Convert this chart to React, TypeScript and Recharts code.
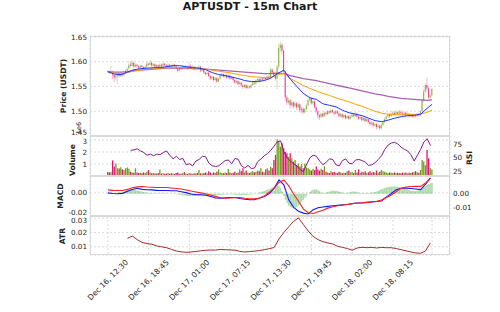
import React from 'react';
import { ComposedChart, Bar, Line, XAxis, YAxis, CartesianGrid, Cell } from 'recharts';

// 15m candles, index 0 = Dec 16 12:30
const tickIdx = [0, 25, 50, 75, 100, 125, 150, 175, 199];
const tickLabels = ['Dec 16, 12:30', 'Dec 16, 18:45', 'Dec 17, 01:00', 'Dec 17, 07:15', 'Dec 17, 13:30', 'Dec 17, 19:45', 'Dec 18, 02:00', 'Dec 18, 08:15', ''];

const opens = [
  1.581, 1.580, 1.577, 1.579, 1.574, 1.568, 1.572, 1.575, 1.571, 1.574,
  1.573, 1.577, 1.582, 1.586, 1.594, 1.592, 1.598, 1.590, 1.594, 1.591,
  1.588, 1.592, 1.589, 1.586, 1.590, 1.596, 1.594, 1.598, 1.592, 1.595,
  1.590, 1.593, 1.589, 1.594, 1.591, 1.596, 1.593, 1.590, 1.594, 1.592,
  1.590, 1.594, 1.591, 1.586, 1.582, 1.588, 1.585, 1.590, 1.587, 1.589,
  1.586, 1.592, 1.588, 1.590, 1.585, 1.588, 1.586, 1.590, 1.582, 1.584,
  1.578, 1.575, 1.578, 1.571, 1.566, 1.570, 1.563, 1.567, 1.560, 1.566,
  1.572, 1.575, 1.570, 1.573, 1.568, 1.572, 1.566, 1.569, 1.563, 1.558,
  1.561, 1.555, 1.558, 1.552, 1.549, 1.553, 1.547, 1.550, 1.548, 1.553,
  1.558, 1.556, 1.562, 1.565, 1.561, 1.566, 1.564, 1.568, 1.565, 1.570,
  1.567, 1.584, 1.578, 1.572, 1.566, 1.590, 1.628, 1.634, 1.622, 1.580,
  1.528, 1.518, 1.522, 1.512, 1.518, 1.510, 1.516, 1.508, 1.514, 1.502,
  1.505, 1.498, 1.504, 1.512, 1.522, 1.526, 1.516, 1.520, 1.508, 1.500,
  1.492, 1.488, 1.495, 1.490, 1.497, 1.494, 1.500, 1.497, 1.502, 1.498,
  1.495, 1.500, 1.496, 1.490, 1.494, 1.488, 1.492, 1.486, 1.490, 1.485,
  1.489, 1.493, 1.490, 1.495, 1.489, 1.485, 1.488, 1.482, 1.486, 1.480,
  1.484, 1.478, 1.474, 1.477, 1.471, 1.474, 1.468, 1.471, 1.466, 1.472,
  1.478, 1.484, 1.489, 1.493, 1.490, 1.495, 1.497, 1.494, 1.498, 1.495,
  1.499, 1.496, 1.494, 1.497, 1.492, 1.495, 1.490, 1.493, 1.489, 1.492,
  1.490, 1.494, 1.492, 1.500, 1.522, 1.540, 1.553, 1.546, 1.528, 1.532,
];
const highs = [
  1.583, 1.582, 1.592, 1.581, 1.576, 1.575, 1.578, 1.577, 1.576, 1.576,
  1.579, 1.584, 1.588, 1.602, 1.600, 1.603, 1.600, 1.597, 1.596, 1.593,
  1.594, 1.594, 1.591, 1.592, 1.600, 1.598, 1.604, 1.600, 1.598, 1.597,
  1.596, 1.595, 1.597, 1.596, 1.599, 1.598, 1.595, 1.597, 1.596, 1.594,
  1.597, 1.596, 1.593, 1.588, 1.590, 1.590, 1.593, 1.592, 1.594, 1.592,
  1.600, 1.595, 1.593, 1.592, 1.591, 1.590, 1.593, 1.592, 1.587, 1.586,
  1.580, 1.581, 1.580, 1.573, 1.573, 1.572, 1.570, 1.569, 1.568, 1.575,
  1.578, 1.577, 1.576, 1.575, 1.575, 1.574, 1.572, 1.571, 1.565, 1.564,
  1.563, 1.561, 1.560, 1.555, 1.556, 1.555, 1.553, 1.552, 1.556, 1.561,
  1.561, 1.565, 1.568, 1.567, 1.569, 1.569, 1.571, 1.570, 1.573, 1.573,
  1.588, 1.587, 1.581, 1.575, 1.594, 1.637, 1.641, 1.638, 1.625, 1.583,
  1.532, 1.527, 1.525, 1.523, 1.521, 1.520, 1.519, 1.518, 1.516, 1.509,
  1.508, 1.507, 1.515, 1.526, 1.530, 1.528, 1.523, 1.522, 1.510, 1.502,
  1.495, 1.498, 1.497, 1.500, 1.499, 1.503, 1.502, 1.505, 1.504, 1.500,
  1.503, 1.502, 1.498, 1.497, 1.496, 1.495, 1.494, 1.493, 1.492, 1.492,
  1.497, 1.496, 1.499, 1.497, 1.491, 1.491, 1.490, 1.489, 1.488, 1.487,
  1.486, 1.480, 1.480, 1.479, 1.477, 1.476, 1.474, 1.473, 1.475, 1.480,
  1.487, 1.492, 1.496, 1.496, 1.499, 1.501, 1.500, 1.502, 1.500, 1.503,
  1.502, 1.499, 1.500, 1.499, 1.498, 1.497, 1.496, 1.495, 1.495, 1.494,
  1.497, 1.497, 1.503, 1.525, 1.545, 1.557, 1.568, 1.550, 1.536, 1.548,
];
const lows = [
  1.578, 1.575, 1.576, 1.566, 1.558, 1.562, 1.555, 1.568, 1.569, 1.570,
  1.571, 1.575, 1.580, 1.584, 1.589, 1.590, 1.587, 1.588, 1.589, 1.585,
  1.586, 1.587, 1.583, 1.584, 1.588, 1.591, 1.592, 1.590, 1.589, 1.588,
  1.588, 1.587, 1.587, 1.589, 1.589, 1.591, 1.588, 1.588, 1.590, 1.587,
  1.588, 1.589, 1.584, 1.578, 1.580, 1.583, 1.583, 1.585, 1.585, 1.584,
  1.584, 1.586, 1.586, 1.582, 1.583, 1.583, 1.584, 1.579, 1.580, 1.575,
  1.572, 1.573, 1.569, 1.563, 1.564, 1.560, 1.561, 1.557, 1.558, 1.564,
  1.570, 1.568, 1.568, 1.565, 1.566, 1.563, 1.564, 1.560, 1.555, 1.556,
  1.552, 1.553, 1.549, 1.545, 1.547, 1.544, 1.545, 1.545, 1.546, 1.551,
  1.553, 1.554, 1.560, 1.558, 1.559, 1.561, 1.562, 1.562, 1.563, 1.564,
  1.565, 1.576, 1.568, 1.562, 1.545, 1.585, 1.620, 1.615, 1.575, 1.522,
  1.512, 1.514, 1.506, 1.508, 1.505, 1.507, 1.502, 1.504, 1.497, 1.496,
  1.494, 1.495, 1.502, 1.510, 1.519, 1.513, 1.513, 1.505, 1.496, 1.485,
  1.482, 1.486, 1.487, 1.488, 1.491, 1.491, 1.494, 1.495, 1.496, 1.492,
  1.493, 1.494, 1.487, 1.488, 1.485, 1.486, 1.483, 1.484, 1.482, 1.483,
  1.487, 1.488, 1.488, 1.487, 1.482, 1.483, 1.479, 1.480, 1.477, 1.478,
  1.475, 1.471, 1.471, 1.468, 1.469, 1.463, 1.464, 1.462, 1.463, 1.470,
  1.476, 1.482, 1.487, 1.487, 1.488, 1.492, 1.491, 1.492, 1.492, 1.493,
  1.493, 1.491, 1.492, 1.489, 1.490, 1.487, 1.488, 1.486, 1.487, 1.487,
  1.488, 1.489, 1.490, 1.498, 1.518, 1.537, 1.540, 1.525, 1.524, 1.529,
];
const closes = [
  1.580, 1.577, 1.579, 1.574, 1.568, 1.572, 1.575, 1.571, 1.574, 1.573,
  1.577, 1.582, 1.586, 1.594, 1.592, 1.598, 1.590, 1.594, 1.591, 1.588,
  1.592, 1.589, 1.586, 1.590, 1.596, 1.594, 1.598, 1.592, 1.595, 1.590,
  1.593, 1.589, 1.594, 1.591, 1.596, 1.593, 1.590, 1.594, 1.592, 1.590,
  1.594, 1.591, 1.586, 1.582, 1.588, 1.585, 1.590, 1.587, 1.589, 1.586,
  1.592, 1.588, 1.590, 1.585, 1.588, 1.586, 1.590, 1.582, 1.584, 1.578,
  1.575, 1.578, 1.571, 1.566, 1.570, 1.563, 1.567, 1.560, 1.566, 1.572,
  1.575, 1.570, 1.573, 1.568, 1.572, 1.566, 1.569, 1.563, 1.558, 1.561,
  1.555, 1.558, 1.552, 1.549, 1.553, 1.547, 1.550, 1.548, 1.553, 1.558,
  1.556, 1.562, 1.565, 1.561, 1.566, 1.564, 1.568, 1.565, 1.570, 1.567,
  1.584, 1.578, 1.572, 1.566, 1.590, 1.628, 1.634, 1.622, 1.580, 1.528,
  1.518, 1.522, 1.512, 1.518, 1.510, 1.516, 1.508, 1.514, 1.502, 1.505,
  1.498, 1.504, 1.512, 1.522, 1.526, 1.516, 1.520, 1.508, 1.500, 1.492,
  1.488, 1.495, 1.490, 1.497, 1.494, 1.500, 1.497, 1.502, 1.498, 1.495,
  1.500, 1.496, 1.490, 1.494, 1.488, 1.492, 1.486, 1.490, 1.485, 1.489,
  1.493, 1.490, 1.495, 1.489, 1.485, 1.488, 1.482, 1.486, 1.480, 1.484,
  1.478, 1.474, 1.477, 1.471, 1.474, 1.468, 1.471, 1.466, 1.472, 1.478,
  1.484, 1.489, 1.493, 1.490, 1.495, 1.497, 1.494, 1.498, 1.495, 1.499,
  1.496, 1.494, 1.497, 1.492, 1.495, 1.490, 1.493, 1.489, 1.492, 1.490,
  1.494, 1.492, 1.500, 1.522, 1.540, 1.553, 1.546, 1.528, 1.532, 1.545,
];
// volume in millions
const volumesM = [
  0.33, 0.30, 0.32, 1.30, 0.78, 1.05, 0.64, 0.62, 0.72, 0.55,
  0.50, 0.64, 0.70, 0.60, 0.35, 0.30, 0.28, 0.64, 0.30, 0.25,
  0.28, 0.22, 0.30, 0.25, 0.35, 0.50, 0.30, 0.22, 0.25, 0.20,
  0.22, 0.25, 0.55, 0.20, 0.22, 0.18, 0.20, 0.25, 0.18, 0.22,
  0.20, 0.18, 0.25, 0.30, 0.20, 0.18, 0.22, 0.31, 0.20, 0.18,
  0.25, 0.20, 0.18, 0.22, 0.20, 0.25, 0.50, 0.22, 0.20, 0.25,
  0.30, 0.22, 0.40, 0.28, 0.22, 0.30, 0.25, 0.35, 0.55, 0.30,
  0.25, 0.22, 0.30, 0.25, 0.58, 0.30, 0.22, 0.28, 0.35, 0.25,
  0.30, 0.55, 0.40, 0.64, 0.30, 0.45, 0.28, 0.25, 0.35, 0.40,
  0.30, 0.35, 0.45, 0.40, 0.64, 0.35, 0.30, 0.55, 0.64, 0.45,
  0.78, 0.65, 1.33, 1.75, 3.05, 2.90, 2.44, 2.72, 2.30, 2.00,
  1.90, 1.60, 1.90, 1.47, 1.20, 1.33, 0.90, 1.05, 0.80, 1.00,
  0.64, 1.05, 0.70, 0.64, 0.55, 0.45, 0.60, 0.50, 0.80, 0.55,
  0.45, 0.60, 0.50, 0.80, 0.35, 0.30, 0.25, 0.40, 0.30, 0.35,
  0.28, 0.25, 0.35, 0.30, 0.22, 0.30, 0.25, 0.40, 0.45, 0.30,
  0.35, 0.25, 0.50, 0.30, 0.55, 0.25, 0.35, 0.30, 0.40, 0.25,
  0.30, 0.40, 0.28, 0.35, 0.30, 0.45, 0.28, 0.35, 0.50, 0.40,
  0.35, 0.30, 0.25, 0.30, 0.28, 0.25, 0.30, 0.22, 0.28, 0.25,
  0.22, 0.28, 0.25, 0.30, 0.22, 0.28, 0.25, 0.30, 0.35, 0.40,
  0.30, 0.28, 0.50, 1.33, 1.20, 0.90, 2.17, 1.47, 0.64, 0.55,
];

// moving averages, read every 4th candle (last point = candle 199)
const MA_STEP = 4;
const maBlue = [
  1.580, 1.575, 1.574, 1.579, 1.584, 1.586, 1.587, 1.588, 1.588, 1.590,
  1.592, 1.592, 1.590, 1.588, 1.587, 1.584, 1.578, 1.574, 1.572, 1.569,
  1.566, 1.562, 1.560, 1.560, 1.562, 1.567, 1.576, 1.583, 1.565, 1.550,
  1.536, 1.527, 1.524, 1.515, 1.512, 1.509, 1.502, 1.497, 1.494, 1.491,
  1.486, 1.481, 1.479, 1.482, 1.486, 1.489, 1.491, 1.492, 1.494, 1.506,
  1.514,
];
const maOrange = [
  1.580, 1.577, 1.576, 1.578, 1.581, 1.583, 1.585, 1.586, 1.587, 1.588,
  1.588, 1.588, 1.588, 1.587, 1.586, 1.585, 1.583, 1.581, 1.579, 1.577,
  1.574, 1.572, 1.570, 1.569, 1.568, 1.569, 1.574, 1.576, 1.566, 1.559,
  1.552, 1.546, 1.541, 1.536, 1.532, 1.527, 1.523, 1.519, 1.514, 1.510,
  1.505, 1.500, 1.496, 1.494, 1.493, 1.493, 1.493, 1.493, 1.494, 1.498,
  1.502,
];
const maPurple = [
  1.580, 1.579, 1.579, 1.580, 1.582, 1.583, 1.584, 1.585, 1.586, 1.587,
  1.587, 1.587, 1.587, 1.586, 1.586, 1.585, 1.584, 1.583, 1.582, 1.581,
  1.580, 1.579, 1.578, 1.577, 1.576, 1.576, 1.577, 1.576, 1.572, 1.569,
  1.566, 1.564, 1.562, 1.559, 1.556, 1.553, 1.550, 1.547, 1.544, 1.541,
  1.538, 1.535, 1.533, 1.530, 1.528, 1.526, 1.525, 1.524, 1.523, 1.522,
  1.523,
];

// RSI from candle 14, every 2nd candle
const RSI_START = 14;
const RSI_STEP = 2;
const rsi = [
  64, 65, 67, 63, 60, 55, 57, 54, 57, 56,
  60, 63, 55, 48, 53, 47, 49, 37, 39, 35,
  44, 47, 53, 52, 40, 35, 34, 35, 40, 45,
  46, 39, 49, 47, 35, 31, 36, 30, 31, 43,
  48, 54, 58, 64, 72, 80, 82, 62, 50, 44,
  39, 35, 28, 24, 38, 50, 55, 53, 44, 37,
  42, 48, 47, 37, 35, 45, 48, 40, 39, 46,
  47, 45, 42, 36, 37, 41, 47, 54, 66, 74,
  78, 79, 76, 70, 66, 63, 56, 44, 55, 66,
  80, 86, 73,
];

// MACD and signal, every 3rd candle
const MACD_STEP = 3;
const macd = [
  0.0000, -0.0005, -0.0008, -0.0004, 0.0015, 0.0030, 0.0040, 0.0030, 0.0027, 0.0026,
  0.0022, 0.0020, 0.0021, 0.0019, 0.0018, 0.0010, 0.0002, -0.0010, -0.0016, -0.0016,
  -0.0020, -0.0030, -0.0044, -0.0045, -0.0043, -0.0040, -0.0040, -0.0048, -0.0055, -0.0060,
  -0.0060, -0.0045, -0.0031, -0.0005, 0.0040, 0.0112, 0.0070, -0.0060, -0.0125, -0.0158,
  -0.0175, -0.0182, -0.0145, -0.0128, -0.0122, -0.0117, -0.0112, -0.0108, -0.0104, -0.0100,
  -0.0093, -0.0087, -0.0087, -0.0082, -0.0078, -0.0075, -0.0070, -0.0035, -0.0005, 0.0028,
  0.0040, 0.0040, 0.0038, 0.0034, 0.0028, 0.0075, 0.0130,
];
const signal = [
  0.0026, 0.0022, 0.0020, 0.0021, 0.0030, 0.0045, 0.0052, 0.0055, 0.0051, 0.0049,
  0.0047, 0.0046, 0.0046, 0.0042, 0.0038, 0.0033, 0.0025, 0.0016, 0.0008, 0.0000,
  -0.0008, -0.0018, -0.0030, -0.0042, -0.0046, -0.0044, -0.0041, -0.0040, -0.0046, -0.0051,
  -0.0052, -0.0047, -0.0028, 0.0005, 0.0040, 0.0090, 0.0112, 0.0060, -0.0010, -0.0072,
  -0.0140, -0.0172, -0.0178, -0.0164, -0.0150, -0.0132, -0.0120, -0.0112, -0.0105, -0.0100,
  -0.0093, -0.0087, -0.0085, -0.0082, -0.0079, -0.0072, -0.0062, -0.0040, -0.0018, 0.0012,
  0.0040, 0.0050, 0.0055, 0.0056, 0.0056, 0.0085, 0.0128,
];
const macdHist = [
  0.0003, 0.0004, 0.0003, 0.0002, 0.0003, 0.0005, 0.0008, 0.0010, 0.0012, 0.0014,
  0.0016, 0.0020, 0.0024, 0.0028, 0.0030, 0.0031, 0.0030, 0.0028, 0.0025, 0.0022,
  0.0018, 0.0015, 0.0012, 0.0010, 0.0008, 0.0006, 0.0005, 0.0004, 0.0004, 0.0003,
  0.0003, 0.0002, 0.0002, 0.0003, 0.0002, 0.0002, 0.0001, 0.0001, 0.0000, -0.0001,
  -0.0002, -0.0003, -0.0004, -0.0006, -0.0008, -0.0010, -0.0012, -0.0014, -0.0016, -0.0017,
  -0.0018, -0.0018, -0.0019, -0.0018, -0.0017, -0.0016, -0.0016, -0.0015, -0.0015, -0.0014,
  -0.0014, -0.0013, -0.0013, -0.0012, -0.0012, -0.0013, -0.0013, -0.0012, -0.0011, -0.0010,
  -0.0009, -0.0008, -0.0007, -0.0006, -0.0005, -0.0005, -0.0006, -0.0007, -0.0008, -0.0008,
  -0.0009, -0.0010, -0.0010, -0.0011, -0.0011, -0.0010, -0.0009, -0.0008, -0.0006, -0.0004,
  -0.0002, 0.0000, 0.0004, 0.0008, 0.0012, 0.0016, 0.0020, 0.0025, 0.0030, 0.0035,
  0.0040, 0.0045, 0.0050, 0.0055, 0.0060, 0.0058, 0.0040, 0.0015, -0.0015, -0.0045,
  -0.0070, -0.0088, -0.0098, -0.0104, -0.0106, -0.0104, -0.0098, -0.0088, -0.0075, -0.0060,
  -0.0045, -0.0030, -0.0015, 0.0000, 0.0012, 0.0022, 0.0030, 0.0032, 0.0030, 0.0025,
  0.0018, 0.0010, 0.0005, 0.0004, 0.0008, 0.0012, 0.0016, 0.0020, 0.0022, 0.0022,
  0.0020, 0.0018, 0.0016, 0.0012, 0.0008, 0.0005, 0.0004, 0.0005, 0.0008, 0.0012,
  0.0015, 0.0016, 0.0015, 0.0012, 0.0008, 0.0005, 0.0004, 0.0003, 0.0003, 0.0004,
  0.0005, 0.0006, 0.0008, 0.0010, 0.0012, 0.0015, 0.0020, 0.0026, 0.0032, 0.0038,
  0.0042, 0.0046, 0.0049, 0.0051, 0.0052, 0.0053, 0.0053, 0.0052, 0.0050, 0.0048,
  0.0045, 0.0042, 0.0038, 0.0034, 0.0030, 0.0026, 0.0022, 0.0020, 0.0019, 0.0020,
  0.0022, 0.0026, 0.0032, 0.0040, 0.0048, 0.0056, 0.0064, 0.0070, 0.0075, 0.0078,
];

// ATR from candle 12, every 3rd candle
const ATR_START = 12;
const ATR_STEP = 3;
const atr = [
  0.0159, 0.0175, 0.0150, 0.0130, 0.0123, 0.0118, 0.0106, 0.0100, 0.0094, 0.0082,
  0.0071, 0.0065, 0.0062, 0.0064, 0.0068, 0.0072, 0.0076, 0.0078, 0.0077, 0.0082,
  0.0080, 0.0078, 0.0077, 0.0068, 0.0064, 0.0067, 0.0070, 0.0074, 0.0080, 0.0087,
  0.0095, 0.0155, 0.0200, 0.0240, 0.0278, 0.0302, 0.0255, 0.0210, 0.0172, 0.0150,
  0.0136, 0.0127, 0.0120, 0.0104, 0.0096, 0.0088, 0.0076, 0.0092, 0.0097, 0.0094,
  0.0096, 0.0092, 0.0096, 0.0094, 0.0094, 0.0088, 0.0080, 0.0072, 0.0064, 0.0057,
  0.0055, 0.0072, 0.0128,
];

const priceTicks = [1.45, 1.5, 1.55, 1.6, 1.65];
const volTicks = [1, 2, 3];
const rsiTicks = [25, 50, 75];
const macdTicks = [-0.02, 0];
const histTicks = [-0.01, 0];
const atrTicks = [0.01, 0.02, 0.03];

const FONT = "'DejaVu Sans', 'Liberation Sans', sans-serif";
const UP = '#6e9f14';
const DOWN = '#e3166d';
const LAST = closes.length - 1;
const X_DOMAIN: [number, number] = [-11, 210];

const rows = closes.map((c, i) => ({
  i,
  open: opens[i],
  high: highs[i],
  low: lows[i],
  close: c,
  vol: volumesM[i],
  hist: macdHist[i],
}));

const sampled = (vals: number[], start: number, step: number) =>
  vals.map((v, k) => ({ i: Math.min(start + k * step, LAST), v }));

const blueData = sampled(maBlue, 0, MA_STEP);
const orangeData = sampled(maOrange, 0, MA_STEP);
const purpleData = sampled(maPurple, 0, MA_STEP);
const rsiData = sampled(rsi, RSI_START, RSI_STEP);
const macdData = sampled(macd, 0, MACD_STEP);
const signalData = sampled(signal, 0, MACD_STEP);
const atrData = sampled(atr, ATR_START, ATR_STEP);

const tickStyle = { fontSize: 7.2, fill: '#262626', fontFamily: FONT };
const gridProps = { stroke: '#d2d2d2', strokeDasharray: '2 2', strokeWidth: 0.8 };

// y tick renderer; edge labels that collide with the next panel's labels get nudged a little
const makeTick = (fmt: (v: number) => string, nudge: Record<string, number> = {}) =>
  (p: any) => (
    <text
      x={p.x}
      y={p.y + (nudge[String(p.payload.value)] ?? 0)}
      dy="0.355em"
      textAnchor={p.textAnchor}
      style={tickStyle}
    >
      {fmt(p.payload.value)}
    </text>
  );

const fix2 = (v: number) => v.toFixed(2);

function Candle(props: any) {
  const { x, y, width, height, payload } = props;
  if (!payload || height == null) return null;
  const { open, close, high, low } = payload;
  const top = Math.min(y, y + height);
  const h = Math.abs(height);
  const k = high > low ? h / (high - low) : 0;
  const py = (v: number) => top + (high - v) * k;
  const color = close >= open ? UP : DOWN;
  const cx = x + width / 2;
  const bodyTop = py(Math.max(open, close));
  const bodyH = Math.max(0.6, Math.abs(py(open) - py(close)));
  return (
    <g>
      <line x1={cx} x2={cx} y1={top} y2={top + h} stroke={color} strokeOpacity={0.45} strokeWidth={0.7} />
      <rect x={x} y={bodyTop} width={width} height={bodyH} fill={color} fillOpacity={0.72} />
    </g>
  );
}

function DateTick({ x, y, payload }: any) {
  const label = tickLabels[tickIdx.indexOf(payload.value)] ?? '';
  const cy = y + 25;
  return (
    <text
      x={x}
      y={cy}
      transform={`rotate(-45 ${x} ${cy})`}
      textAnchor="middle"
      dominantBaseline="central"
      fontSize={7.6}
      fontFamily={FONT}
      fill="#262626"
    >
      {label}
    </text>
  );
}

const hiddenX = (
  <XAxis
    dataKey="i"
    type="number"
    domain={X_DOMAIN}
    ticks={tickIdx}
    interval={0}
    tick={false}
    axisLine={false}
    tickLine={false}
    height={0}
    allowDataOverflow
  />
);

function PricePanel() {
  return (
    <ComposedChart width={500} height={112} data={rows} margin={{ top: 6, right: 50, bottom: 6, left: 50 }}>
      <CartesianGrid {...gridProps} />
      {hiddenX}
      <YAxis
        domain={[1.45, 1.652]}
        ticks={priceTicks}
        interval={0}
        width={40}
        tickSize={0}
        tickMargin={3}
        axisLine={false}
        tick={makeTick(fix2, { '1.45': -3.5 })}
        allowDataOverflow
      />
      <Bar dataKey={(d: any) => [d.low, d.high]} shape={(p: any) => <Candle {...p} />} barSize={1.1} isAnimationActive={false} />
      <Line data={purpleData} dataKey="v" stroke="#9b45a8" strokeOpacity={0.85} strokeWidth={1.3} dot={false} isAnimationActive={false} />
      <Line data={orangeData} dataKey="v" stroke="#ffa000" strokeWidth={1} dot={false} isAnimationActive={false} />
      <Line data={blueData} dataKey="v" stroke="#2233ff" strokeWidth={1} dot={false} isAnimationActive={false} />
    </ComposedChart>
  );
}

function VolumePanel() {
  return (
    <ComposedChart width={500} height={52} data={rows} margin={{ top: 6, right: 10, bottom: 6, left: 50 }}>
      <CartesianGrid {...gridProps} yAxisId="vol" />
      {hiddenX}
      <YAxis yAxisId="vol" domain={[0, 3.33]} ticks={volTicks} interval={0} width={40} tickSize={0} tickMargin={3} axisLine={false} tick={makeTick((v) => String(v), { '3': 1.5 })} />
      <YAxis yAxisId="rsi" orientation="right" domain={[16, 91]} ticks={rsiTicks} interval={0} width={40} tickSize={0} tickMargin={3} axisLine={false} tick={tickStyle} />
      <Bar yAxisId="vol" dataKey="vol" barSize={1.3} isAnimationActive={false}>
        {rows.map((r) => (
          <Cell key={r.i} fill={r.close >= r.open ? UP : DOWN} />
        ))}
      </Bar>
      <Line yAxisId="rsi" data={rsiData} dataKey="v" stroke="#84198f" strokeWidth={1} dot={false} isAnimationActive={false} />
    </ComposedChart>
  );
}

function MacdPanel() {
  return (
    <ComposedChart width={500} height={52} data={rows} margin={{ top: 6, right: 10, bottom: 6, left: 50 }}>
      <CartesianGrid {...gridProps} yAxisId="macd" />
      {hiddenX}
      <YAxis yAxisId="macd" domain={[-0.02, 0.0146]} ticks={macdTicks} interval={0} width={40} tickSize={0} tickMargin={3} axisLine={false} tick={makeTick(fix2, { '-0.02': -3.5 })} allowDataOverflow />
      <YAxis yAxisId="hist" orientation="right" domain={[-0.0165, 0.013]} ticks={histTicks} interval={0} width={40} tickSize={0} tickMargin={3} axisLine={false} tick={makeTick(fix2)} allowDataOverflow />
      <Bar yAxisId="hist" dataKey="hist" fill="#3aa83a" fillOpacity={0.42} barSize={1.7} isAnimationActive={false} />
      <Line yAxisId="macd" data={macdData} dataKey="v" stroke="#1515ff" strokeWidth={1.1} dot={false} isAnimationActive={false} />
      <Line yAxisId="macd" data={signalData} dataKey="v" stroke="#ff2020" strokeWidth={1.1} dot={false} isAnimationActive={false} />
    </ComposedChart>
  );
}

function AtrPanel() {
  return (
    <ComposedChart width={500} height={102} data={rows} margin={{ top: 6, right: 50, bottom: 0, left: 50 }}>
      <CartesianGrid {...gridProps} />
      <XAxis
        dataKey="i"
        type="number"
        domain={X_DOMAIN}
        ticks={tickIdx}
        interval={0}
        tick={(p: any) => <DateTick {...p} />}
        axisLine={false}
        tickLine={false}
        tickSize={0}
        tickMargin={0}
        height={57}
        allowDataOverflow
      />
      <YAxis domain={[0.0043, 0.0315]} ticks={atrTicks} interval={0} width={40} tickSize={0} tickMargin={3} axisLine={false} tick={makeTick(fix2, { '0.03': 2.5 })} allowDataOverflow />
      <Line data={atrData} dataKey="v" stroke="#a52a2a" strokeWidth={1} dot={false} isAnimationActive={false} />
    </ComposedChart>
  );
}

const labelStyle = { fontFamily: FONT, fontSize: 7.6, fontWeight: 'bold' as const, fill: '#262626' };

export default function App() {
  return (
    <div style={{ position: 'absolute', left: 0, top: 0, width: 500, height: 312, background: '#fff', overflow: 'hidden' }}>
      <div style={{ position: 'absolute', left: 0, top: 30 }}>
        <PricePanel />
      </div>
      <div style={{ position: 'absolute', left: 0, top: 130 }}>
        <VolumePanel />
      </div>
      <div style={{ position: 'absolute', left: 0, top: 170 }}>
        <MacdPanel />
      </div>
      <div style={{ position: 'absolute', left: 0, top: 210 }}>
        <AtrPanel />
      </div>
      <svg width={500} height={312} style={{ position: 'absolute', left: 0, top: 0, pointerEvents: 'none' }}>
        <g fill="none" stroke="#d9d9d9" strokeWidth={1}>
          <rect x={90.5} y={36.5} width={359} height={99} />
          <rect x={90.5} y={136.5} width={359} height={39} />
          <rect x={90.5} y={176.5} width={359} height={39} />
          <rect x={90.5} y={216.5} width={359} height={38} />
        </g>
        <text x={250} y={10} textAnchor="middle" style={{ fontFamily: FONT, fontSize: 11, fontWeight: 'bold' }} fill="#1a1a1a">
          APTUSDT - 15m Chart
        </text>
        <text x={63} y={86} transform="rotate(-90 63 86)" textAnchor="middle" dominantBaseline="central" style={labelStyle}>
          Price (USDT)
        </text>
        <text x={72} y={160} transform="rotate(-90 72 160)" textAnchor="middle" dominantBaseline="central" style={labelStyle}>
          Volume
        </text>
        <text x={79} y={128} transform="rotate(-90 79 128)" textAnchor="middle" dominantBaseline="central" style={{ ...labelStyle, fontWeight: 'normal', fontSize: 6.5 }}>
          1e6
        </text>
        <text x={469} y={158} transform="rotate(-90 469 158)" textAnchor="middle" dominantBaseline="central" style={labelStyle}>
          RSI
        </text>
        <text x={60} y={196} transform="rotate(-90 60 196)" textAnchor="middle" dominantBaseline="central" style={labelStyle}>
          MACD
        </text>
        <text x={62} y={236} transform="rotate(-90 62 236)" textAnchor="middle" dominantBaseline="central" style={labelStyle}>
          ATR
        </text>
      </svg>
    </div>
  );
}
